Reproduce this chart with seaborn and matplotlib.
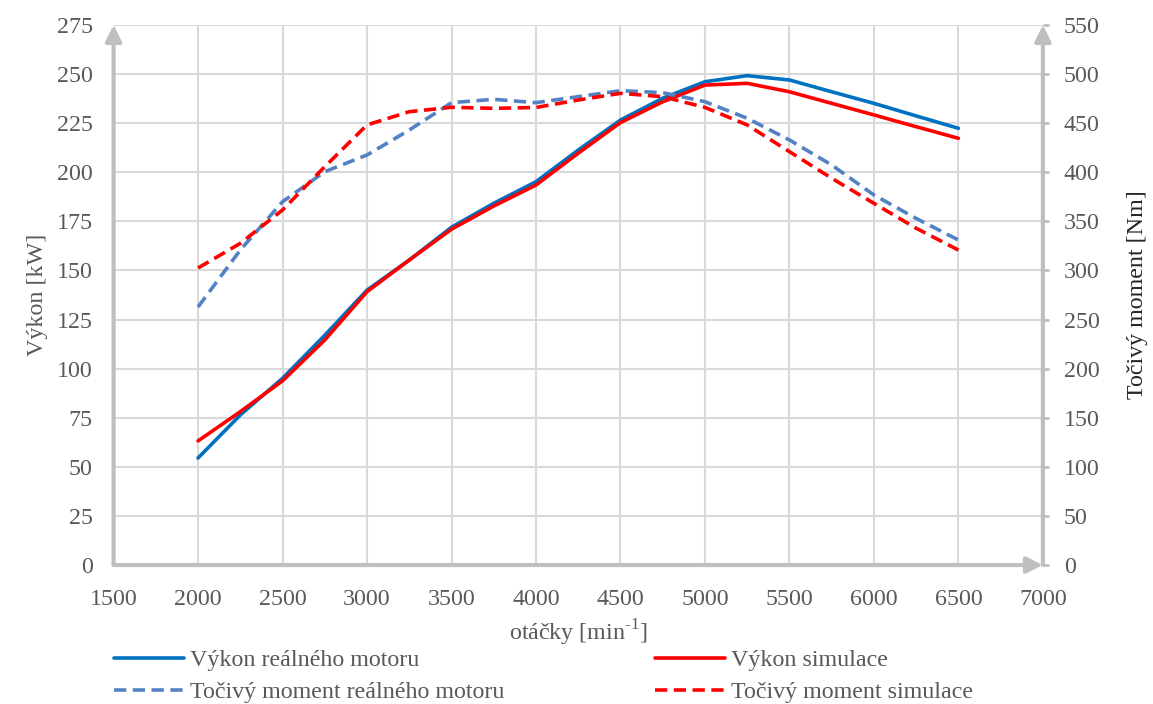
import pandas as pd
import matplotlib
matplotlib.use('Agg')
import matplotlib.pyplot as plt
import seaborn as sns

# otacky [min-1]
rpm = [2000, 2250, 2500, 2750, 3000, 3250, 3500, 3750, 4000, 4250,
       4500, 4750, 5000, 5250, 5500, 5750, 6000, 6250, 6500]

# vykon [kW]
power_real = [54.5, 76.4, 95.1, 117.0, 140.0, 155.3, 172.0, 184.2, 195.2, 211.3,
              226.6, 237.7, 246.1, 249.2, 247.0, 241.0, 235.1, 228.7, 222.4]
power_sim = [63.2, 78.1, 93.8, 114.6, 139.2, 155.3, 171.0, 182.8, 193.5, 209.7,
             225.3, 235.9, 244.4, 245.3, 241.0, 235.1, 229.2, 223.2, 217.3]

# tocivy moment [Nm]
torque_real = [262.8, 320.8, 370.0, 400.6, 417.6, 443.0, 470.9, 474.3, 470.9, 477.0,
               483.1, 481.1, 471.9, 455.0, 432.9, 407.4, 376.9, 353.0, 331.0]
torque_sim = [302.5, 327.6, 361.6, 405.7, 448.2, 461.7, 466.2, 465.1, 466.0, 473.6,
              480.4, 477.0, 466.1, 448.2, 421.0, 393.9, 368.4, 343.0, 320.8]

labels = ['Výkon reálného motoru', 'Točivý moment reálného motoru',
          'Výkon simulace', 'Točivý moment simulace']

df = pd.DataFrame({'rpm': rpm, 'pr': power_real, 'ps': power_sim,
                   'tr': torque_real, 'ts': torque_sim})

sns.set_style('white')
plt.rcParams['font.family'] = ['Liberation Serif', 'DejaVu Serif']

grey = '#595959'
axis_grey = '#BFBFBF'
blue = '#0070C0'
blue_d = '#5382C4'
red = '#FF0000'
lw = 2.6
fs = 17.3

fig = plt.figure(figsize=(11.53, 7.04), dpi=100)
ax = fig.add_axes([0.0985, 0.1974, 0.806, 0.7671])
ax2 = ax.twinx()

sns.lineplot(data=df, x='rpm', y='pr', ax=ax, color=blue, lw=lw, label=labels[0], legend=False)
sns.lineplot(data=df, x='rpm', y='ps', ax=ax, color=red, lw=lw, label=labels[2], legend=False)
sns.lineplot(data=df, x='rpm', y='tr', ax=ax2, color=blue_d, lw=lw, label=labels[1], legend=False)
sns.lineplot(data=df, x='rpm', y='ts', ax=ax2, color=red, lw=lw, label=labels[3], legend=False)
for line in ax2.get_lines():
    line.set_dashes((3.4, 1.8))

ax.set_xlim(1500, 7000)
ax.set_ylim(0, 275)
ax2.set_ylim(0, 550)
ax.set_xticks(range(1500, 7001, 500))
ax.set_yticks(range(0, 276, 25))
ax2.set_yticks(range(0, 551, 50))

ax.grid(True, color='#D9D9D9', lw=1.5)
ax.set_axisbelow(True)
for a in (ax, ax2):
    for s in a.spines.values():
        s.set_visible(False)

ax.tick_params(axis='y', length=0, labelsize=fs, labelcolor=grey, pad=15)
ax.tick_params(axis='x', length=0, labelsize=fs, labelcolor=grey, pad=17)
ax2.tick_params(axis='y', length=4, width=2, color=axis_grey, labelsize=fs,
                labelcolor=grey, pad=11, direction='out')

ax.set_xlabel('otáčky [min$^{\\mathregular{\u20101}}$]', fontsize=fs, color=grey, labelpad=6)
ax.set_ylabel('Výkon [kW]', fontsize=fs, color=grey, labelpad=6)
ax2.set_ylabel('Točivý moment [Nm]', fontsize=fs, color='#262626', labelpad=20)

# axis arrows, Excel style
arrow = dict(arrowstyle='-|>', color=axis_grey, lw=3, mutation_scale=24, shrinkA=0, shrinkB=0)
ax.annotate('', xy=(0, 1.0), xytext=(0, 0), xycoords='axes fraction', arrowprops=arrow, zorder=5)
ax.annotate('', xy=(1.0, 0), xytext=(0, 0), xycoords='axes fraction', arrowprops=arrow, zorder=5)
ax2.annotate('', xy=(1, 1.0), xytext=(1, 0), xycoords='axes fraction', arrowprops=arrow, zorder=5)

h1, l1 = ax.get_legend_handles_labels()
h2, l2 = ax2.get_legend_handles_labels()
handles = [h1[0], h2[0], h1[1], h2[1]]
fig.legend(handles, [labels[0], labels[1], labels[2], labels[3]], ncol=2, frameon=False,
           loc='upper left', bbox_to_anchor=(0.08, 0.108), fontsize=fs,
           handlelength=2.9, handletextpad=0.25, columnspacing=6.3, labelspacing=0.42,
           labelcolor=grey)

fig.savefig('out.png', dpi=100)
